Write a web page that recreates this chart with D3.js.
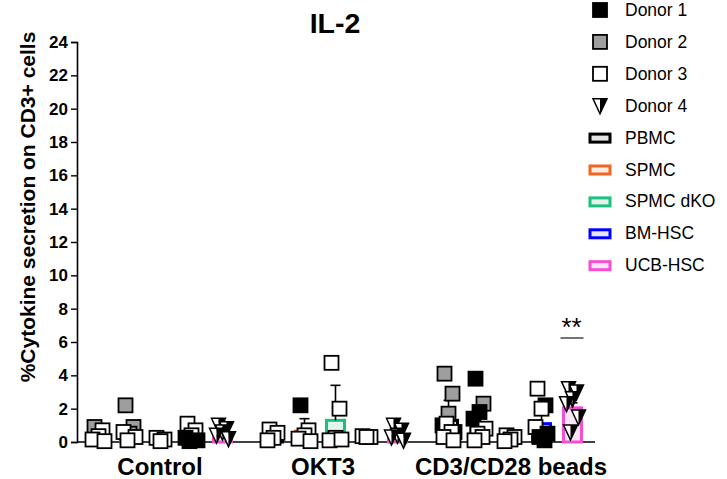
<!DOCTYPE html>
<html>
<head>
<meta charset="utf-8">
<script src="https://cdn.jsdelivr.net/npm/d3@7"></script>
<style>
  html, body { margin: 0; padding: 0; background: #fff; }
  svg { display: block; font-family: "Liberation Sans", Arial, sans-serif; }
</style>
</head>
<body>
<svg id="chart" width="727" height="479"></svg>
<script>
// Stimulation conditions and cell sources
const groups = ["Control", "OKT3", "CD3/CD28 beads"];
const cellTypes = ["PBMC", "SPMC", "SPMC dKO", "BM-HSC", "UCB-HSC"];
const donors = ["Donor 1", "Donor 2", "Donor 3", "Donor 4"];
const yTicks = [0, 2, 4, 6, 8, 10, 12, 14, 16, 18, 20, 22, 24];

// Mean % IL-2+ (rows: condition, cols: cell type)
const barMeans = [
  [0.45, 0.5, 0.15, 0.35, 0.35],
  [0.35, 0.65, 1.3, 0.4, 0.35],
  [1.3, 1.05, 0.25, 1.1, 2.05]
];
// SEM (drawn upward from the mean)
const barSEM = [
  [0.2, 0.3, 0.05, 0.15, 0.15],
  [0.12, 0.75, 2.1, 0.12, 0.15],
  [1.2, 0.9, 0.1, 1.1, 0.3]
];

// Individual replicates: [donor index (0-3), value]
const pointsControl = [
  [[1, 0.9], [2, 0.7], [2, 0.35], [2, 0.15], [2, 0.05]],
  [[1, 2.2], [1, 0.9], [1, 0.5], [2, 0.6], [2, 0.3], [2, 0.1]],
  [[2, 0.25], [2, 0.15], [2, 0.05]],
  [[2, 1.1], [2, 0.7], [2, 0.4], [0, 0.25], [0, 0.1], [0, 0.05]],
  [[3, 1.0], [3, 0.8], [3, 0.6], [3, 0.4], [3, 0.2]]
];
const pointsOKT3 = [
  [[2, 0.75], [2, 0.55], [2, 0.25], [2, 0.1]],
  [[0, 2.2], [2, 0.7], [2, 0.4], [2, 0.2], [2, 0.05]],
  [[2, 4.75], [2, 2.0], [2, 0.25], [2, 0.1], [2, 0.15]],
  [[2, 0.35], [2, 0.3], [2, 0.3]],
  [[3, 1.0], [3, 0.7], [3, 0.4], [3, 0.3], [3, 0.1]]
];
const pointsBeads = [
  [[1, 4.1], [1, 2.9], [1, 1.7], [0, 1.0], [0, 0.6], [2, 1.1], [2, 0.6], [2, 0.3], [2, 0.1]],
  [[0, 3.8], [1, 2.3], [0, 1.8], [0, 1.4], [2, 0.8], [2, 0.5], [2, 0.3], [2, 0.1]],
  [[2, 0.4], [2, 0.3], [2, 0.15], [2, 0.05]],
  [[2, 3.2], [0, 2.2], [2, 2.0], [2, 0.9], [0, 0.5], [0, 0.3], [0, 0.1]],
  [[3, 3.2], [3, 3.0], [3, 2.6], [3, 2.3], [3, 1.5], [3, 0.6]]
];
const replicates = [pointsControl, pointsOKT3, pointsBeads];

// Significance annotation: [condition, cell type, label]
const significance = [[2, 4, "**"]];

const cellColors = ["#000000", "#f26522", "#1dbf7e", "#0000ff", "#f54fd6"];
const cellFills = ["#e6e6e6", "#fdeee4", "#e3f6ee", "#e4e4fb", "#fbe6f6"];
const donorFills = ["#000000", "#9e9e9e", "#ffffff", null];

const svg = d3.select("#chart");

const y = d3.scaleLinear().domain([0, 24]).range([442, 42]);
const xGroup = d3.scaleBand().domain(groups).range([83, 588]).paddingInner(20 / 175).paddingOuter(0);
const xCell = d3.scaleBand().domain(cellTypes).range([0, xGroup.bandwidth()]);
const barW = 18;
const cx = (g, c) => xGroup(groups[g]) + xCell(cellTypes[c]) + xCell.bandwidth() / 2;

// Title
svg.append("text").attr("x", 335).attr("y", 33).attr("text-anchor", "middle")
  .attr("font-size", 28.5).attr("font-weight", "bold").text("IL-2");

// Y axis
const yAxis = svg.append("g").attr("transform", "translate(77,0)")
  .call(d3.axisLeft(y).tickValues(yTicks).tickSize(6).tickPadding(3));
yAxis.select(".domain").attr("stroke", "#000").attr("stroke-width", 1.6);
yAxis.selectAll(".tick line").attr("stroke", "#000").attr("stroke-width", 1.4);
yAxis.selectAll(".tick text").attr("font-size", 17).attr("font-weight", "bold")
  .attr("fill", "#000").attr("font-family", "Liberation Sans, Arial, sans-serif");

svg.append("text")
  .attr("transform", "translate(35,207) rotate(-90)")
  .attr("text-anchor", "middle").attr("font-size", 21).attr("font-weight", "bold")
  .text("%Cytokine secretion on CD3+ cells");

// X baseline and condition labels
svg.append("line").attr("x1", 77).attr("x2", 595).attr("y1", y(0)).attr("y2", y(0))
  .attr("stroke", "#000").attr("stroke-width", 1.6);
const groupLabelX = [160, 323, 511];
svg.selectAll(".glabel").data(groups).join("text")
  .attr("class", "glabel")
  .attr("x", (d, i) => groupLabelX[i]).attr("y", 475)
  .attr("text-anchor", "middle").attr("font-size", 24).attr("font-weight", "bold")
  .text(d => d);

// Bars
const barData = [];
barMeans.forEach((row, g) => row.forEach((v, c) => barData.push({ g, c, v, e: barSEM[g][c] })));

svg.append("g").selectAll("rect").data(barData).join("rect")
  .attr("x", d => cx(d.g, d.c) - barW / 2)
  .attr("y", d => y(d.v))
  .attr("width", barW)
  .attr("height", d => y(0) - y(d.v))
  .attr("fill", d => cellFills[d.c])
  .attr("stroke", d => cellColors[d.c])
  .attr("stroke-width", 3);

// Error bars
const eb = svg.append("g").attr("stroke", "#000").attr("stroke-width", 1.6);
eb.selectAll("line.v").data(barData).join("line").attr("class", "v")
  .attr("x1", d => cx(d.g, d.c)).attr("x2", d => cx(d.g, d.c))
  .attr("y1", d => y(d.v)).attr("y2", d => y(d.v + d.e));
eb.selectAll("line.cap").data(barData).join("line").attr("class", "cap")
  .attr("x1", d => cx(d.g, d.c) - 5).attr("x2", d => cx(d.g, d.c) + 5)
  .attr("y1", d => y(d.v + d.e)).attr("y2", d => y(d.v + d.e));

// Replicate symbols
const jitter = [-4, 4, 0, -6, 6, -2, 3, -5, 5];
const pts = [];
replicates.forEach((grp, g) => grp.forEach((list, c) => list.forEach((p, i) =>
  pts.push({ g, c, donor: p[0], v: p[1], dx: jitter[i % jitter.length] }))));

function drawSymbol(sel, donor, size) {
  const h = size / 2;
  if (donor < 3) {
    sel.append("rect").attr("x", -h).attr("y", -h).attr("width", size).attr("height", size)
      .attr("fill", donorFills[donor]).attr("stroke", "#000").attr("stroke-width", 1.8);
  } else {
    sel.append("path").attr("d", `M${-h},${-h}L0,${-h}L0,${h + 1}Z`).attr("fill", "#fff");
    sel.append("path").attr("d", `M0,${-h}L${h},${-h}L0,${h + 1}Z`).attr("fill", "#000");
    sel.append("path").attr("d", `M${-h},${-h}L${h},${-h}L0,${h + 1}Z`)
      .attr("fill", "none").attr("stroke", "#000").attr("stroke-width", 1.5).attr("stroke-linejoin", "miter");
  }
}

const pg = svg.append("g");
pts.forEach(p => {
  const s = pg.append("g").attr("transform", `translate(${cx(p.g, p.c) + p.dx},${y(p.v)})`);
  drawSymbol(s, p.donor, 14);
});

// Significance marks
significance.forEach(([g, c, label]) => {
  const x0 = cx(g, c);
  svg.append("line").attr("x1", x0 - 12).attr("x2", x0 + 11).attr("y1", 338).attr("y2", 338)
    .attr("stroke", "#444").attr("stroke-width", 1.5);
  svg.append("text").attr("x", x0 - 1).attr("y", 336).attr("text-anchor", "middle")
    .attr("font-size", 26).text(label);
});

// Legend
const legendY = d => 10 + d * 31.9;
const lg = svg.append("g");
donors.forEach((d, i) => {
  const s = lg.append("g").attr("transform", `translate(600,${legendY(i)})`);
  drawSymbol(s, i, 14);
  lg.append("text").attr("x", 625).attr("y", legendY(i) + 6).attr("font-size", 17.5).text(d);
});
cellTypes.forEach((d, j) => {
  const i = j + 4;
  lg.append("rect").attr("x", 590).attr("y", legendY(i) - 3.5).attr("width", 20).attr("height", 8)
    .attr("fill", cellFills[j]).attr("stroke", cellColors[j]).attr("stroke-width", 3);
  lg.append("text").attr("x", 625).attr("y", legendY(i) + 6).attr("font-size", 17.5).text(d);
});
</script>
</body>
</html>
